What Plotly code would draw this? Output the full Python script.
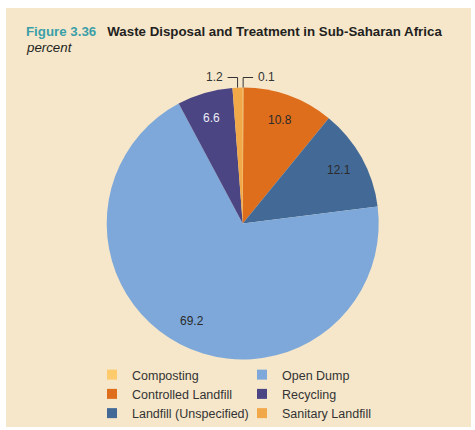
import math
import plotly.graph_objects as go

# ---- data ----
categories = ["Composting", "Controlled Landfill", "Landfill (Unspecified)",
              "Open Dump", "Recycling", "Sanitary Landfill"]
values = [0.1, 10.8, 12.1, 69.2, 6.6, 1.2]
colors = ["#FDCA6C", "#DE6E1C", "#436A97", "#7DA8D9", "#4B4584", "#F0A848"]
text_colors = ["#333333", "#2b2b2b", "#2b2b2b", "#2b2b2b", "#ECECF4", "#333333"]
outside_labels = {"Composting", "Sanitary Landfill"}
legend_col1 = ["Composting", "Controlled Landfill", "Landfill (Unspecified)"]
legend_col2 = ["Open Dump", "Recycling", "Sanitary Landfill"]

W, H = 475, 430
ML, MR, MT, MB = 6, 4, 8, 3
PW, PH = W - ML - MR, H - MT - MB
BG = "#F6E7CB"
FONT = "Liberation Sans, Arial, sans-serif"

def px2x(px):
    return (px - ML) / PW

def py2y(py):
    return (H - MB - py) / PH

# pie geometry (pixels)
cx, cy, R = 242.7, 223.5, 136

fig = go.Figure()

fig.add_trace(go.Pie(
    labels=categories, values=values, sort=False, direction="clockwise", rotation=0,
    marker=dict(colors=colors, line=dict(width=0)),
    textinfo="none",
    showlegend=False, hoverinfo="label+value",
    domain=dict(x=[px2x(cx - R), px2x(cx + R)], y=[py2y(cy + R), py2y(cy - R)]),
))

# legend via dummy traces, two vertical legends = two columns
for lg, names in (("legend", legend_col1), ("legend2", legend_col2)):
    for name in names:
        c = colors[categories.index(name)]
        fig.add_trace(go.Scatter(x=[None], y=[None], mode="markers", name=name,
                                 marker=dict(symbol="square", size=10, color=c),
                                 showlegend=True, hoverinfo="skip", legend=lg))

# slice labels, positions derived from the data (cumulative angles)
total = sum(values)
cum = 0.0
shapes, annots = [], []
for cat, v, tc in zip(categories, values, text_colors):
    mid = (cum + v / 2) / total * 2 * math.pi
    cum += v
    if cat not in outside_labels:
        r = 0.81 * R
        annots.append(dict(x=px2x(cx + r * math.sin(mid)), y=py2y(cy - r * math.cos(mid)),
                           xref="paper", yref="paper", text=f"{v:.1f}", showarrow=False,
                           xanchor="center", yanchor="middle",
                           font=dict(family=FONT, size=12, color=tc)))
        continue
    ex = cx + R * math.sin(mid)
    ey = cy - R * math.cos(mid)
    ly = cy - R - 10
    sgn = 1 if math.sin(mid) > 0.0005 else -1
    hx = ex + sgn * 10
    shapes.append(dict(type="path", xref="paper", yref="paper",
                       path=f"M {px2x(ex)},{py2y(ey)} L {px2x(ex)},{py2y(ly)} L {px2x(hx)},{py2y(ly)}",
                       line=dict(color="#333333", width=1)))
    annots.append(dict(x=px2x(hx + sgn * 3), y=py2y(ly), xref="paper", yref="paper",
                       text=f"{v:.1f}", showarrow=False,
                       xanchor="left" if sgn > 0 else "right", yanchor="middle",
                       font=dict(family=FONT, size=12, color="#333333")))

# title
annots.append(dict(
    x=px2x(24), y=py2y(41), xref="paper", yref="paper", xanchor="left", yanchor="bottom",
    showarrow=False,
    text="<b><span style='color:#3B9FA8'>Figure 3.36</span>&nbsp;&nbsp;&nbsp;Waste Disposal and Treatment in Sub-Saharan Africa</b>",
    font=dict(family=FONT, size=13.3, color="#231F20")))
annots.append(dict(
    x=px2x(24), y=py2y(57), xref="paper", yref="paper", xanchor="left", yanchor="bottom",
    showarrow=False, text="<i>percent</i>",
    font=dict(family=FONT, size=13.3, color="#231F20")))

legend_common = dict(orientation="v", xanchor="left", yanchor="top",
                     bgcolor="rgba(0,0,0,0)", itemwidth=30, tracegroupgap=0,
                     font=dict(family=FONT, size=12.5, color="#333333"))

fig.update_layout(
    width=W, height=H,
    margin=dict(l=ML, r=MR, t=MT, b=MB, pad=0, autoexpand=False),
    paper_bgcolor="white", plot_bgcolor=BG,
    xaxis=dict(visible=False), yaxis=dict(visible=False),
    shapes=shapes, annotations=annots,
    legend=dict(x=px2x(92), y=py2y(360), **legend_common),
    legend2=dict(x=px2x(242), y=py2y(360), **legend_common),
    font=dict(family=FONT),
)

fig.write_html("out.html", config={"displayModeBar": False},
               post_script="document.body.style.margin='0';document.body.style.overflow='hidden';")
